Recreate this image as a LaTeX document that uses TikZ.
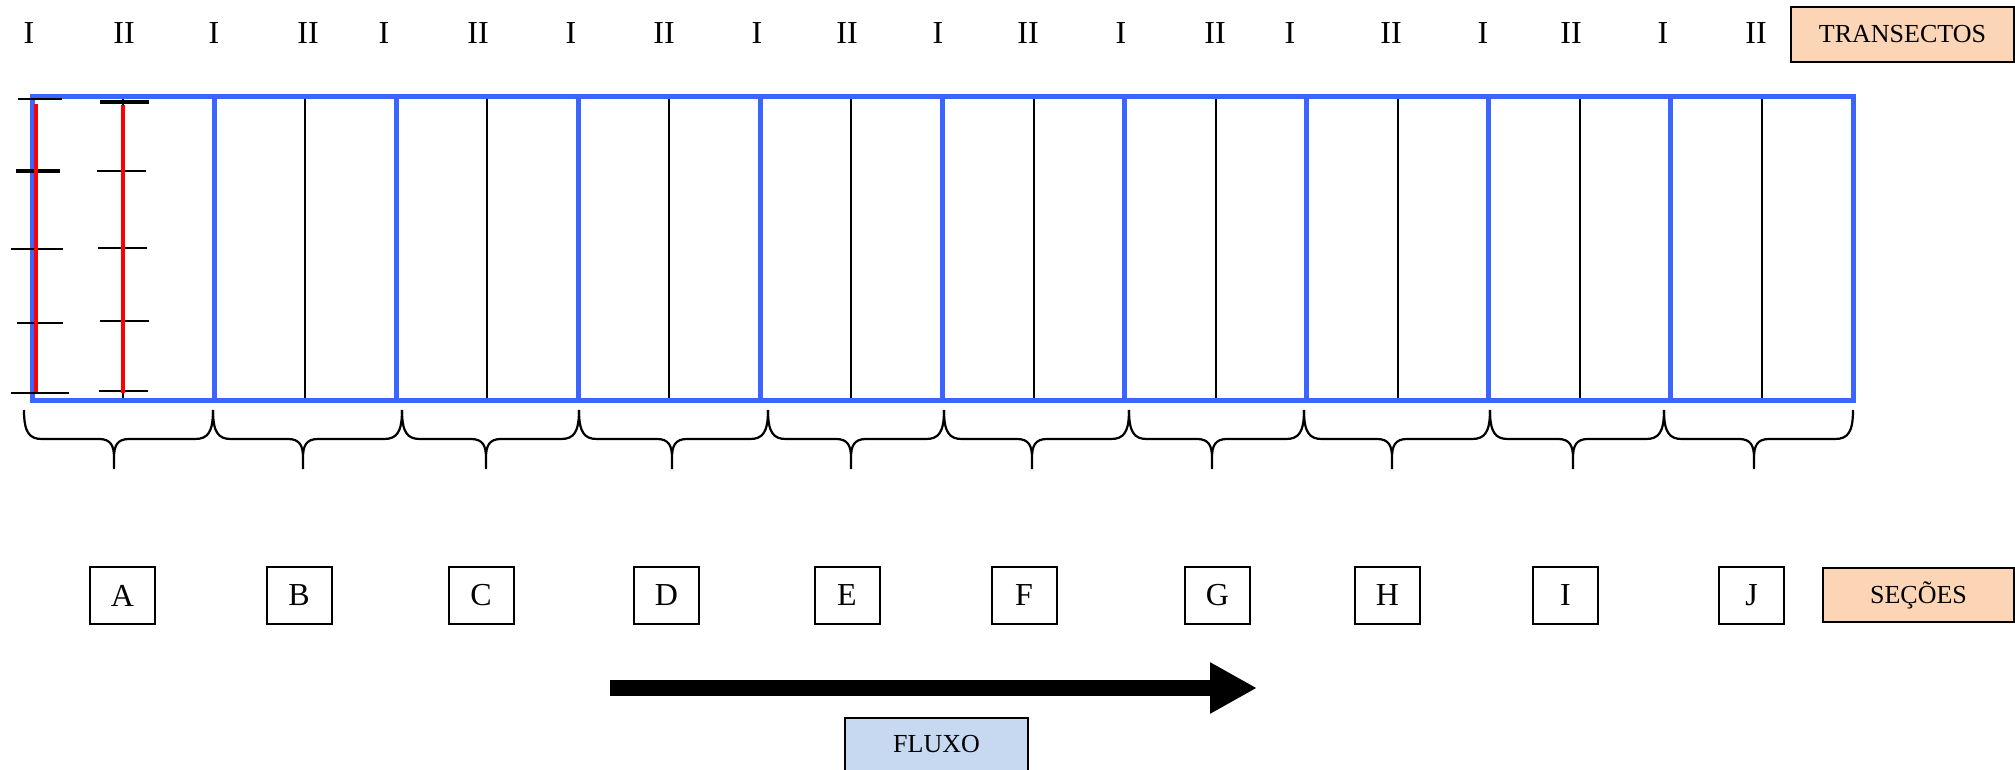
\documentclass[tikz,border=0pt]{standalone}
\usepackage{fontspec}
\setmainfont{Liberation Serif}
\usetikzlibrary{arrows.meta}
\definecolor{secblue}{RGB}{58,102,255}
\definecolor{peach}{RGB}{251,213,181}
\definecolor{lblue}{RGB}{198,217,241}
\begin{document}
\begin{tikzpicture}[x=0.5pt,y=-0.5pt,
  roman/.style={font=\fontsize{16}{19}\selectfont, inner sep=0pt},
  secbox/.style={draw, line width=1pt, minimum width=32.5pt, minimum height=28.5pt, inner sep=0pt, font=\fontsize{16}{19}\selectfont},
  labelbox/.style={draw, line width=1pt, fill=peach, inner sep=0pt, font=\fontsize{13}{16}\selectfont},
  flowbox/.style={draw, line width=1pt, fill=lblue, inner xsep=0pt, inner ysep=0pt, font=\fontsize{13}{16}\selectfont},
  bluewall/.style={draw=secblue, line width=2.5pt},
  midline/.style={line width=1pt},
  redline/.style={draw=red, line width=2pt},
  tickline/.style={line width=1pt},
  thicktick/.style={line width=1.8pt},
  bracepath/.style={line width=1.1pt},
  flowarrow/.style={line width=8pt, -{Triangle[length=23.5pt,width=24pt]}}
]
\useasboundingbox (0,0) rectangle (2015,770);
\clip (0,0) rectangle (2015,770);

% transect labels
\foreach \x/\t [count=\k] in {29/I,124/II,214/I,308/II,384/I,478/II,571/I,664/II,757/I,847/II,938/I,1028/II,1121/I,1215/II,1290/I,1391/II,1483/I,1571/II,1663/I,1756/II}
  \node[roman] (n\k) at (\x,33) {\t};

\node[labelbox, minimum width=111.5pt, minimum height=27.5pt] (transectos) at (1902.5,34.5) {TRANSECTOS};

% middle transect lines
\foreach \i in {0,...,9}
  \draw[midline] ({32+91.05+182.1*\i},97) -- ({32+91.05+182.1*\i},401);

% section walls
\draw[bluewall] (32,97) rectangle (1853,401);
\foreach \i in {1,...,9}
  \draw[bluewall] ({32+182.1*\i},97) -- ({32+182.1*\i},401);

% ticks
\foreach \a/\b/\y in {18/62/99.5, 11/63/249, 17/63/323, 11/69/393, 97/146/171, 98/147/248, 100/149/321, 99/148/391}
  \draw[tickline] (\a,\y) -- (\b,\y);
\foreach \a/\b/\y in {16/60/171, 100/149/102}
  \draw[thicktick] (\a,\y) -- (\b,\y);

% red transects
\draw[redline] (35.5,104) -- (35.5,392);
\draw[redline] (123,105) -- (123,393);

% braces
\foreach \a/\m/\b in {24/114/213, 213/303/402, 402/486/579, 579/672/768, 768/851/944, 944/1032/1129, 1129/1212/1304, 1304/1392/1490, 1490/1573/1664, 1664/1754/1853}
  \draw[bracepath] (\a,410) .. controls (\a,432) and ({\a+5},439) .. ({\a+18},439) -- ({\m-15},439) .. controls ({\m-3},439) and (\m,446) .. (\m,458) -- (\m,469)
    (\m,469) -- (\m,458) .. controls (\m,446) and ({\m+3},439) .. ({\m+15},439) -- ({\b-18},439) .. controls ({\b-5},439) and (\b,432) .. (\b,410);

% section boxes
\foreach \x/\t in {122.5/A,299/B,481/C,666.5/D,847/E,1024/F,1217.5/G,1387.5/H,1565.5/I,1751.5/J}
  \node[secbox] (s\t) at (\x,595.5) {\t};

\node[labelbox, minimum width=95.5pt, minimum height=27pt] (secoes) at (1918.5,595) {SEÇÕES};

% flow arrow
\coordinate (fa) at (610,688);
\coordinate (fb) at (1257,688);
\draw[flowarrow] (fa) -- (fb);

\node[flowbox, anchor=north, minimum width=91.5pt, text height=17.25pt, text depth=20pt] (fluxo) at (936.5,717) {FLUXO};
\end{tikzpicture}
\end{document}
